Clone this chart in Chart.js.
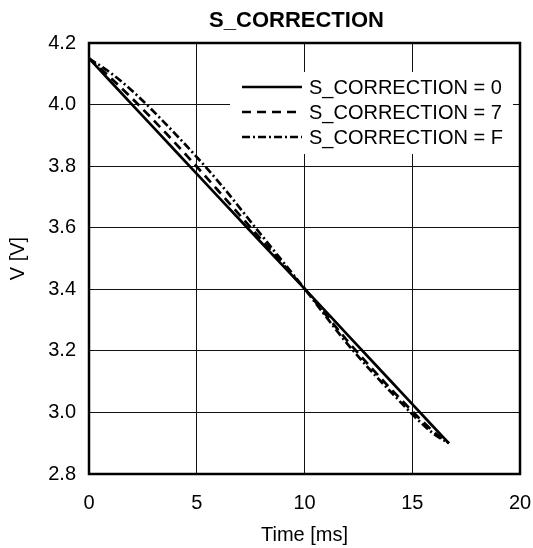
<!DOCTYPE html>
<html>
<head>
<meta charset="utf-8">
<script src="https://cdn.jsdelivr.net/npm/chart.js@4.4.0/dist/chart.umd.min.js"></script>
<style>
  html, body { margin: 0; padding: 0; background: #fff; }
  canvas { display: block; }
</style>
</head>
<body>
<canvas id="chart" width="533" height="548"></canvas>
<script>
// Discharge curves
const timeMs = [0, 1, 2, 4, 6, 8, 10, 12, 14, 16, 16.7];
const vCorr0 = [4.150, 4.075, 4.000, 3.850, 3.700, 3.551, 3.402, 3.252, 3.102, 2.952, 2.900];
const vCorr7 = [4.150, 4.087, 4.020, 3.875, 3.720, 3.561, 3.402, 3.232, 3.077, 2.937, 2.900];
const vCorrF = [4.150, 4.103, 4.045, 3.905, 3.750, 3.576, 3.402, 3.222, 3.067, 2.930, 2.900];
const seriesLabels = ['S_CORRECTION = 0', 'S_CORRECTION = 7', 'S_CORRECTION = F'];
const xTicks = [0, 5, 10, 15, 20];
const yTicks = [2.8, 3.0, 3.2, 3.4, 3.6, 3.8, 4.0, 4.2];

const FONT = "'Liberation Sans', Arial, sans-serif";
const dashes = [[], [9, 6], [8, 3, 2, 3]];

function toPoints(ys) {
    return timeMs.map((t, i) => ({ x: t, y: ys[i] }));
}

// title, centred a bit left of the plot middle like the original
const plotTitle = {
    id: 'plotTitle',
    afterDraw(chart) {
        const ctx = chart.ctx;
        const a = chart.chartArea;
        ctx.save();
        ctx.font = 'bold 22px ' + FONT;
        ctx.fillStyle = '#000';
        ctx.textAlign = 'center';
        ctx.textBaseline = 'middle';
        ctx.fillText('S_CORRECTION', (a.left + a.right) / 2 - 8, 21);
        ctx.restore();
    }
};

// legend box inside the plot, drawn over the grid
const insideLegend = {
    id: 'insideLegend',
    beforeDatasetsDraw(chart) {
        const ctx = chart.ctx;
        const a = chart.chartArea;
        const boxL = a.left + 141, boxR = a.right - 7;
        const boxT = a.top + 29, boxB = a.top + 111;
        ctx.save();
        ctx.fillStyle = '#fff';
        ctx.fillRect(boxL, boxT, boxR - boxL, boxB - boxT);
        ctx.font = '20px ' + FONT;
        ctx.textBaseline = 'middle';
        ctx.fillStyle = '#000';
        seriesLabels.forEach((lbl, i) => {
            const y = a.top + 44 + i * 25;
            ctx.beginPath();
            ctx.setLineDash(dashes[i]);
            ctx.lineWidth = 2.5;
            ctx.strokeStyle = '#000';
            ctx.moveTo(boxL + 12, y);
            ctx.lineTo(boxL + 72, y);
            ctx.stroke();
            ctx.setLineDash([]);
            ctx.fillText(lbl, boxL + 79, y + 1);
        });
        ctx.restore();
    }
};

// heavy frame round the plot
const plotFrame = {
    id: 'plotFrame',
    afterDatasetsDraw(chart) {
        const ctx = chart.ctx;
        const a = chart.chartArea;
        ctx.save();
        ctx.lineWidth = 2.5;
        ctx.strokeStyle = '#000';
        ctx.strokeRect(a.left, a.top, a.right - a.left, a.bottom - a.top);
        ctx.restore();
    }
};

new Chart(document.getElementById('chart'), {
    type: 'line',
    data: {
        datasets: [vCorr0, vCorr7, vCorrF].map((ys, i) => ({
            label: seriesLabels[i],
            data: toPoints(ys),
            borderColor: '#000',
            borderWidth: 2.7,
            borderDash: dashes[i],
            pointRadius: 0,
            fill: false,
            cubicInterpolationMode: 'monotone',
        })),
    },
    options: {
        responsive: false,
        animation: false,
        devicePixelRatio: 1,
        layout: { padding: { left: 0, right: 13, top: 43, bottom: 0 } },
        plugins: {
            legend: { display: false },
            tooltip: { enabled: false },
            title: { display: false },
        },
        scales: {
            x: {
                type: 'linear',
                min: 0,
                max: 20,
                afterBuildTicks: s => { s.ticks = xTicks.map(v => ({ value: v })); },
                afterFit: s => { s.height = 74; s.paddingLeft = 0; s.paddingRight = 0; },
                grid: { color: '#111', lineWidth: 1, drawTicks: false },
                border: { display: false },
                ticks: {
                    color: '#000',
                    padding: 17,
                    font: { family: FONT, size: 20 },
                },
                title: {
                    display: true,
                    text: 'Time [ms]',
                    color: '#000',
                    font: { family: FONT, size: 20 },
                    padding: { top: 0, bottom: 1 },
                },
            },
            y: {
                type: 'linear',
                min: 2.8,
                max: 4.2,
                afterBuildTicks: s => { s.ticks = yTicks.map(v => ({ value: v })); },
                afterFit: s => { s.width = 89; s.paddingTop = 0; s.paddingBottom = 0; },
                grid: { color: '#111', lineWidth: 1, drawTicks: false },
                border: { display: false },
                ticks: {
                    color: '#000',
                    padding: 13,
                    font: { family: FONT, size: 20 },
                    callback: v => v.toFixed(1),
                },
                title: {
                    display: true,
                    text: 'V [V]',
                    color: '#000',
                    font: { family: FONT, size: 20 },
                    padding: { top: 6, bottom: 0 },
                },
            },
        },
    },
    plugins: [insideLegend, plotFrame, plotTitle],
});
</script>
</body>
</html>
